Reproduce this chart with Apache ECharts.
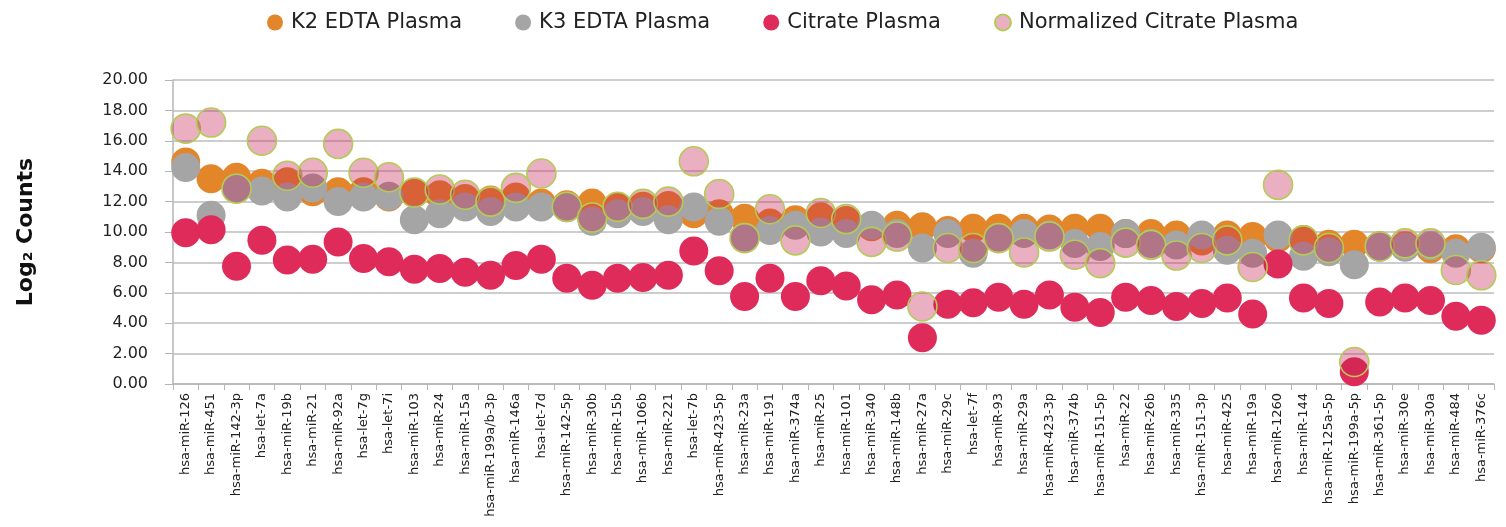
<!DOCTYPE html>
<html>
<head>
<meta charset="utf-8">
<script src="https://cdn.jsdelivr.net/npm/echarts@6/dist/echarts.min.js"></script>
<style>
  html, body { margin: 0; padding: 0; background: #fff; }
  #main { width: 1506px; height: 527px; }
</style>
</head>
<body>
<div id="main"></div>
<script>
// miRNA names along the x axis
var mirnas = ['hsa-miR-126', 'hsa-miR-451', 'hsa-miR-142-3p', 'hsa-let-7a', 'hsa-miR-19b', 'hsa-miR-21',
  'hsa-miR-92a', 'hsa-let-7g', 'hsa-let-7i', 'hsa-miR-103', 'hsa-miR-24', 'hsa-miR-15a', 'hsa-miR-199a/b-3p',
  'hsa-miR-146a', 'hsa-let-7d', 'hsa-miR-142-5p', 'hsa-miR-30b', 'hsa-miR-15b', 'hsa-miR-106b', 'hsa-miR-221',
  'hsa-let-7b', 'hsa-miR-423-5p', 'hsa-miR-23a', 'hsa-miR-191', 'hsa-miR-374a', 'hsa-miR-25', 'hsa-miR-101',
  'hsa-miR-340', 'hsa-miR-148b', 'hsa-miR-27a', 'hsa-miR-29c', 'hsa-let-7f', 'hsa-miR-93', 'hsa-miR-29a',
  'hsa-miR-423-3p', 'hsa-miR-374b', 'hsa-miR-151-5p', 'hsa-miR-22', 'hsa-miR-26b', 'hsa-miR-335', 'hsa-miR-151-3p',
  'hsa-miR-425', 'hsa-miR-19a', 'hsa-miR-1260', 'hsa-miR-144', 'hsa-miR-125a-5p', 'hsa-miR-199a-5p',
  'hsa-miR-361-5p', 'hsa-miR-30e', 'hsa-miR-30a', 'hsa-miR-484', 'hsa-miR-376c']

// log2 counts per sample type
var k2Edta = [14.6, 13.5, 13.6, 13.2, 13.3, 12.65, 12.65, 12.65, 12.3, 12.55, 12.45, 12.2, 12.1,
  12.3, 11.9, 11.8, 11.9, 11.65, 11.7, 11.75, 11.2, 11.2, 10.9, 10.6, 10.8, 11.0, 10.75,
  10.35, 10.45, 10.35, 10.1, 10.25, 10.25, 10.25, 10.2, 10.25, 10.25, 9.9, 9.9, 9.8, 9.4,
  9.8, 9.7, 9.6, 9.5, 9.2, 9.2, 9.1, 9.1, 8.9, 8.9, 8.9]
var k3Edta = [14.25, 11.1, 12.9, 12.7, 12.3, 12.9, 12.0, 12.3, 12.35, 10.8, 11.2, 11.65, 11.35,
  11.65, 11.65, 11.6, 10.7, 11.2, 11.35, 10.8, 11.65, 10.7, 9.65, 10.1, 10.45, 10.0, 9.9,
  10.45, 9.9, 8.95, 9.9, 8.6, 9.65, 9.9, 9.8, 9.25, 9.05, 9.9, 9.25, 9.15, 9.8,
  8.8, 8.6, 9.8, 8.4, 8.7, 7.85, 9.0, 9.0, 9.1, 8.6, 9.0]
var citrate = [9.95, 10.15, 7.75, 9.45, 8.15, 8.2, 9.35, 8.25, 8.05, 7.55, 7.6, 7.35, 7.15,
  7.8, 8.2, 6.95, 6.5, 6.95, 7.0, 7.15, 8.75, 7.45, 5.75, 6.95, 5.75, 6.8, 6.45,
  5.55, 5.85, 3.05, 5.25, 5.35, 5.7, 5.25, 5.85, 5.05, 4.7, 5.7, 5.5, 5.1, 5.3,
  5.65, 4.6, 7.9, 5.65, 5.3, 0.8, 5.4, 5.65, 5.5, 4.45, 4.2]
var normCitrate = [16.8, 17.2, 12.85, 16.0, 13.7, 13.9, 15.8, 13.9, 13.6, 12.6, 12.8, 12.45, 12.0,
  12.9, 13.85, 11.65, 10.95, 11.65, 11.85, 12.0, 14.65, 12.5, 9.6, 11.5, 9.45, 11.25, 10.85,
  9.35, 9.7, 5.1, 8.95, 8.95, 9.6, 8.65, 9.7, 8.5, 7.95, 9.3, 9.15, 8.45, 8.95,
  9.45, 7.7, 13.1, 9.45, 8.95, 1.45, 9.05, 9.25, 9.25, 7.5, 7.15]

var yTicks = { min: 0, max: 20, interval: 2 }

var chart = echarts.init(document.getElementById('main'))

function dotSeries(name, data, fill, border) {
  return {
    name: name,
    type: 'scatter',
    data: data,
    symbol: 'circle',
    symbolSize: 29,
    itemStyle: {
      color: fill,
      opacity: 1,
      borderColor: border || fill,
      borderWidth: border ? 1.6 : 0
    },
    emphasis: { disabled: true }
  }
}

var option = {
  animation: false,
  backgroundColor: '#fff',
  textStyle: { fontFamily: '"DejaVu Sans", sans-serif' },
  legend: {
    top: 7,
    left: 262,
    itemGap: 53,
    itemWidth: 16,
    itemHeight: 16,
    icon: 'circle',
    textStyle: { fontSize: 21, color: '#222', fontFamily: '"DejaVu Sans", sans-serif', padding: [0, 0, 0, 3] },
    data: ['K2 EDTA Plasma', 'K3 EDTA Plasma', 'Citrate Plasma', 'Normalized Citrate Plasma']
  },
  grid: { left: 173, right: 12, top: 80, bottom: 143, containLabel: false },
  xAxis: {
    type: 'category',
    data: mirnas,
    boundaryGap: true,
    axisLine: { lineStyle: { color: '#b5b5b5', width: 1.5 } },
    axisTick: { show: true, length: 6, lineStyle: { color: '#b5b5b5' } },
    axisLabel: {
      interval: 0,
      rotate: 90,
      fontSize: 13,
      color: '#222',
      margin: 9
    },
    splitLine: { show: false }
  },
  yAxis: {
    type: 'value',
    min: yTicks.min,
    max: yTicks.max,
    interval: yTicks.interval,
    name: 'Log₂ Counts',
    nameLocation: 'middle',
    nameRotate: 90,
    nameGap: 136,
    nameTextStyle: { fontSize: 22, fontWeight: 'bold', color: '#111' },
    axisLine: { show: true, lineStyle: { color: '#b5b5b5', width: 1.5 } },
    axisTick: { show: true, length: 8, lineStyle: { color: '#b5b5b5' } },
    axisLabel: {
      fontSize: 16,
      color: '#222',
      margin: 25,
      formatter: function (v) { return v.toFixed(2) }
    },
    splitLine: { lineStyle: { color: '#bdbdbd', width: 1.5 } }
  },
  series: [
    dotSeries('K2 EDTA Plasma', k2Edta, '#e3862a'),
    dotSeries('K3 EDTA Plasma', k3Edta, '#a5a5a6'),
    dotSeries('Citrate Plasma', citrate, '#df2b5a'),
    dotSeries('Normalized Citrate Plasma', normCitrate, 'rgba(196,32,80,0.36)', '#b3cb57')
  ]
}

chart.setOption(option)
</script>
</body>
</html>
